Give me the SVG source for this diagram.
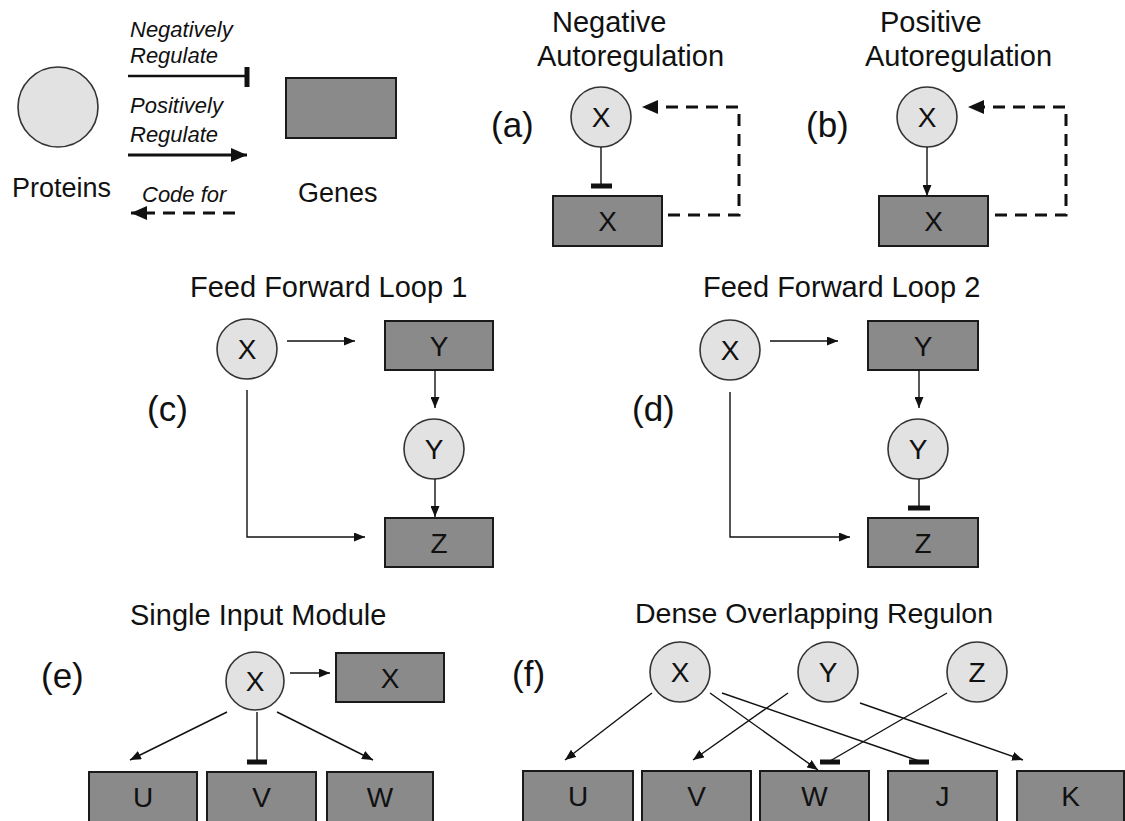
<svg xmlns="http://www.w3.org/2000/svg" width="1125" height="821" viewBox="0 0 1125 821">
<style>
text{font-family:"Liberation Sans",Arial,sans-serif;fill:#111}
.p{fill:#e2e2e2;stroke:#333;stroke-width:1.6}
.g{fill:#8a8a8a;stroke:#1a1a1a;stroke-width:2}
.n{font-size:28px;text-anchor:middle}
.lab{font-size:35px}
.h{font-size:29px}
.leg{font-size:22px;font-style:italic}
.big{font-size:27px}
.c{fill:none;stroke:#111;stroke-width:1.4}
.d{fill:none;stroke:#111;stroke-width:3;stroke-dasharray:12 8}
.bar{stroke:#111;stroke-width:5;fill:none}
</style>
<defs>
<marker id="ah" markerUnits="userSpaceOnUse" markerWidth="11" markerHeight="9" refX="11" refY="4.5" orient="auto"><path d="M0,0 L11,4.5 L0,9 z" fill="#111"/></marker>
<marker id="ahb" markerUnits="userSpaceOnUse" markerWidth="16" markerHeight="14" refX="16" refY="7" orient="auto"><path d="M0,0 L16,7 L0,14 z" fill="#111"/></marker>
</defs>

<g id="legend">
<circle class="p" cx="58" cy="107" r="40"/>
<rect class="g" x="286" y="78" width="110" height="60"/>
<text class="leg" x="130" y="37">Negatively</text>
<text class="leg" x="130" y="63">Regulate</text>
<text class="leg" x="130" y="113">Positively</text>
<text class="leg" x="130" y="142">Regulate</text>
<text class="leg" x="142" y="202">Code for</text>
<text class="big" x="12" y="197">Proteins</text>
<text class="big" x="298" y="202">Genes</text>
<line x1="128" y1="76" x2="247" y2="76" stroke="#111" stroke-width="2.5"/>
<line x1="247" y1="67" x2="247" y2="87" stroke="#111" stroke-width="5"/>
<line x1="128" y1="155" x2="247" y2="155" stroke="#111" stroke-width="3" marker-end="url(#ahb)"/>
<line x1="235" y1="213" x2="131" y2="213" class="d" marker-end="url(#ahb)"/>
</g>

<g id="titles">
<text class="h" x="552" y="32">Negative</text>
<text class="h" x="537" y="66">Autoregulation</text>
<text class="h" x="880" y="32">Positive</text>
<text class="h" x="865" y="66">Autoregulation</text>
<text class="h" x="190" y="297">Feed Forward Loop 1</text>
<text class="h" x="703" y="297">Feed Forward Loop 2</text>
<text class="h" x="130" y="625">Single Input Module</text>
<text class="h" x="635" y="623" style="font-size:28.5px">Dense Overlapping Regulon</text>
<text class="lab" x="491" y="137">(a)</text>
<text class="lab" x="806" y="137">(b)</text>
<text class="lab" x="147" y="421">(c)</text>
<text class="lab" x="632" y="421">(d)</text>
<text class="lab" x="41" y="688">(e)</text>
<text class="lab" x="512" y="686">(f)</text>
</g>

<g id="a-protX"><circle class="p" cx="601" cy="117" r="30"/><text class="n" x="601" y="127">X</text></g>
<g id="a-geneX"><rect class="g" x="553" y="196" width="109" height="50"/><text class="n" x="607.5" y="231">X</text></g>
<g id="b-protX"><circle class="p" cx="927" cy="117" r="30"/><text class="n" x="927" y="127">X</text></g>
<g id="b-geneX"><rect class="g" x="879" y="196" width="109" height="50"/><text class="n" x="933.5" y="231">X</text></g>

<g id="c-protX"><circle class="p" cx="247" cy="349" r="30"/><text class="n" x="247" y="359">X</text></g>
<g id="c-geneY"><rect class="g" x="385" y="321" width="108" height="49"/><text class="n" x="439" y="356">Y</text></g>
<g id="c-protY"><circle class="p" cx="434" cy="449" r="30"/><text class="n" x="434" y="459">Y</text></g>
<g id="c-geneZ"><rect class="g" x="385" y="518" width="108" height="49"/><text class="n" x="439" y="553">Z</text></g>

<g id="d-protX"><circle class="p" cx="730" cy="350" r="30"/><text class="n" x="730" y="360">X</text></g>
<g id="d-geneY"><rect class="g" x="868" y="321" width="110" height="49"/><text class="n" x="923" y="356">Y</text></g>
<g id="d-protY"><circle class="p" cx="918" cy="449" r="30"/><text class="n" x="918" y="459">Y</text></g>
<g id="d-geneZ"><rect class="g" x="868" y="518" width="110" height="49"/><text class="n" x="923" y="553">Z</text></g>

<g id="e-protX"><circle class="p" cx="255" cy="681" r="29"/><text class="n" x="255" y="691">X</text></g>
<g id="e-geneX"><rect class="g" x="336" y="653" width="108" height="49"/><text class="n" x="390" y="688">X</text></g>
<g id="e-geneU"><rect class="g" x="89" y="772" width="108" height="50"/><text class="n" x="143" y="807">U</text></g>
<g id="e-geneV"><rect class="g" x="207" y="772" width="109" height="50"/><text class="n" x="261.5" y="807">V</text></g>
<g id="e-geneW"><rect class="g" x="327" y="772" width="106" height="50"/><text class="n" x="380" y="807">W</text></g>

<g id="f-protX"><circle class="p" cx="680" cy="672" r="30"/><text class="n" x="680" y="682">X</text></g>
<g id="f-protY"><circle class="p" cx="828" cy="672" r="30"/><text class="n" x="828" y="682">Y</text></g>
<g id="f-protZ"><circle class="p" cx="977" cy="672" r="30"/><text class="n" x="977" y="682">Z</text></g>
<g id="f-geneU"><rect class="g" x="523" y="771" width="110" height="51"/><text class="n" x="578" y="806">U</text></g>
<g id="f-geneV"><rect class="g" x="642" y="771" width="109" height="51"/><text class="n" x="696.5" y="806">V</text></g>
<g id="f-geneW"><rect class="g" x="760" y="771" width="109" height="51"/><text class="n" x="814.5" y="806">W</text></g>
<g id="f-geneJ"><rect class="g" x="888" y="771" width="109" height="51"/><text class="n" x="942.5" y="806">J</text></g>
<g id="f-geneK"><rect class="g" x="1017" y="771" width="107" height="51"/><text class="n" x="1070.5" y="806">K</text></g>

<g id="connectors">
<line class="c" x1="601" y1="147" x2="601" y2="185"/>
<line class="bar" x1="591" y1="186" x2="612" y2="186"/>
<path class="d" d="M668,215 H739 V107 H642" marker-end="url(#ahb)"/>
<line class="c" x1="927" y1="147" x2="927" y2="196" marker-end="url(#ah)"/>
<path class="d" d="M995,215 H1066 V107 H968" marker-end="url(#ahb)"/>

<line class="c" x1="287" y1="341" x2="355" y2="341" marker-end="url(#ah)"/>
<line class="c" x1="435" y1="370" x2="435" y2="408" marker-end="url(#ah)"/>
<line class="c" x1="435" y1="479" x2="435" y2="517" marker-end="url(#ah)"/>
<path class="c" d="M247,390 V537 H365" marker-end="url(#ah)"/>

<line class="c" x1="770" y1="341" x2="838" y2="341" marker-end="url(#ah)"/>
<line class="c" x1="919" y1="370" x2="919" y2="408" marker-end="url(#ah)"/>
<line class="c" x1="919" y1="479" x2="919" y2="506"/>
<line class="bar" x1="908" y1="508" x2="930" y2="508"/>
<path class="c" d="M730,392 V537 H850" marker-end="url(#ah)"/>

<line class="c" x1="290" y1="673" x2="330" y2="673" marker-end="url(#ah)"/>
<line class="c" x1="227" y1="712" x2="130" y2="760" marker-end="url(#ah)"/>
<line class="c" x1="257" y1="712" x2="257" y2="760"/>
<line class="bar" x1="247" y1="762" x2="267" y2="762"/>
<line class="c" x1="277" y1="712" x2="373" y2="760" marker-end="url(#ah)"/>

<line class="c" x1="652" y1="693" x2="565" y2="760" marker-end="url(#ah)"/>
<line class="c" x1="710" y1="693" x2="818" y2="770" marker-end="url(#ah)"/>
<line class="c" x1="722" y1="693" x2="919" y2="761"/>
<line class="bar" x1="909" y1="762" x2="929" y2="762"/>
<line class="c" x1="788" y1="693" x2="693" y2="760" marker-end="url(#ah)"/>
<line class="c" x1="860" y1="703" x2="1023" y2="760" marker-end="url(#ah)"/>
<line class="c" x1="947" y1="693" x2="830" y2="761"/>
<line class="bar" x1="820" y1="762" x2="840" y2="762"/>
</g>
</svg>
